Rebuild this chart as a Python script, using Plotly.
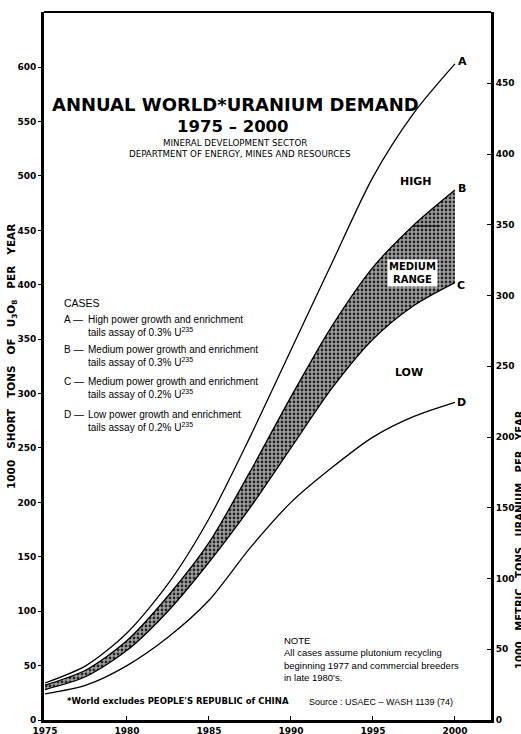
import plotly.graph_objects as go

# ---------------- data ----------------
years = [1975, 1977.5, 1980, 1982.5, 1985, 1987.5, 1990, 1992.5, 1995, 1997.5, 2000]
case_a = [34, 50, 80, 125, 185, 260, 340, 420, 499, 558, 603]
case_b = [32, 46, 73, 114, 163, 228, 297, 362, 416, 455, 487]
case_c = [28, 40, 64, 100, 145, 195, 250, 305, 350, 381, 402]
case_d = [24, 32, 50, 76, 110, 158, 200, 232, 260, 279, 292]
band_mark_years = [1997.4, 1999.1]
band_mark_values = [454, 454]

left_ticks = list(range(0, 601, 50))
right_ticks = list(range(0, 451, 50))
year_ticks = [1975, 1980, 1985, 1990, 1995, 2000]
metric_per_short = 0.769   # 1000 short tons U3O8 -> 1000 metric tons U

# ---------------- geometry ----------------
W, H = 521, 734
ML, MR, MT, MB = 44, 30, 12, 14
PW, PH = W - ML - MR, H - MT - MB
y_max = 650.7
x_range = [1974.94, 2002.2]


def px(x):
    return (x - ML) / PW


def py(y):
    return (H - MB - y) / PH


line_style = dict(color="black", width=1.3, shape="spline", smoothing=0.8)

fig = go.Figure()
fig.add_trace(go.Scatter(x=years, y=case_d, mode="lines", line=line_style,
                         showlegend=False, hoverinfo="skip"))
fig.add_trace(go.Scatter(x=years, y=case_c, mode="lines", line=line_style,
                         showlegend=False, hoverinfo="skip"))
fig.add_trace(go.Scatter(x=years, y=case_b, mode="lines", line=line_style,
                         fill="tonexty", fillcolor="#8f8f8f",
                         fillpattern=dict(shape=".", fgcolor="#262626", bgcolor="#a2a2a2",
                                          size=4, solidity=0.4),
                         showlegend=False, hoverinfo="skip"))
fig.add_trace(go.Scatter(x=years, y=case_a, mode="lines", line=line_style,
                         showlegend=False, hoverinfo="skip"))
fig.add_trace(go.Scatter(x=band_mark_years, y=band_mark_values, mode="lines",
                         line=dict(color="black", width=1), showlegend=False, hoverinfo="skip"))
fig.add_trace(go.Scatter(x=years, y=[v * metric_per_short for v in case_d], yaxis="y2",
                         mode="lines", line=dict(color="rgba(0,0,0,0)", width=0),
                         showlegend=False, hoverinfo="skip"))

tick_font = dict(family="DejaVu Sans", size=9, color="black", weight="bold")

fig.update_layout(
    width=W, height=H,
    margin=dict(l=ML, r=MR, t=MT, b=MB, pad=0),
    paper_bgcolor="white", plot_bgcolor="white",
    template="none",
    xaxis=dict(range=x_range, tickvals=year_ticks, ticktext=[str(t) for t in year_ticks],
               showgrid=False, zeroline=False, showline=True, linecolor="black", linewidth=3,
               mirror=False, ticks="inside", ticklen=4, tickwidth=1, tickcolor="black",
               tickfont=tick_font, automargin=False),
    yaxis=dict(range=[0, y_max], tickvals=left_ticks, showgrid=False, zeroline=False,
               showline=True, linecolor="black", linewidth=3, ticks="outside", ticklen=3,
               tickwidth=1, tickcolor="black", tickfont=tick_font, automargin=False),
    yaxis2=dict(range=[0, y_max * metric_per_short], tickvals=right_ticks, overlaying="y",
                side="right", showgrid=False, zeroline=False, showline=True,
                linecolor="black", linewidth=3, ticks="inside", ticklen=4, tickwidth=1,
                tickcolor="black", tickfont=tick_font, automargin=False),
)

# top frame line
fig.add_shape(type="line", xref="paper", yref="paper", x0=0, x1=1, y0=1, y1=1,
              line=dict(color="black", width=2))

anns = []


def ann(text, x, y, size, family="Liberation Sans", bold=False, xanchor="center",
        yanchor="middle", angle=0, bg=None, align="left"):
    a = dict(text=f"<b>{text}</b>" if bold else text, x=px(x), y=py(y), xref="paper",
             yref="paper", showarrow=False, xanchor=xanchor, yanchor=yanchor,
             textangle=angle, align=align,
             font=dict(family=family, size=size, color="black"))
    if bg:
        a.update(bgcolor=bg, borderpad=1)
    anns.append(a)


# Title block
ann("ANNUAL WORLD*URANIUM DEMAND", 235, 104, 18, family="DejaVu Sans", bold=True)
ann("1975 – 2000", 233, 126, 16.5, family="DejaVu Sans", bold=True)
ann("MINERAL DEVELOPMENT SECTOR", 235, 143, 8.7, family="DejaVu Sans")
ann("DEPARTMENT OF ENERGY, MINES AND RESOURCES", 240, 154, 8.7, family="DejaVu Sans")

# Cases legend
ann("CASES", 62, 303, 10.5, xanchor="left")
cases = [
    ("A —", "High power growth and enrichment", "0.3%", 318),
    ("B —", "Medium power growth and enrichment", "0.3%", 348),
    ("C —", "Medium power growth and enrichment", "0.2%", 380),
    ("D —", "Low power growth and enrichment", "0.2%", 413),
]
for letter, line1, assay, yy in cases:
    ann(letter, 62, yy - 6, 10, xanchor="left", yanchor="top")
    ann(f"{line1}<br>tails assay of {assay} U<sup>235</sup>", 86, yy - 6, 10,
        xanchor="left", yanchor="top")

# Curve labels
ann("A", 462, 62, 11, family="DejaVu Sans", bold=True)
ann("B", 462, 188, 11, family="DejaVu Sans", bold=True)
ann("C", 461, 285, 11, family="DejaVu Sans", bold=True)
ann("D", 461, 403, 11, family="DejaVu Sans", bold=True)
ann("HIGH", 416, 181, 11, family="DejaVu Sans", bold=True)
ann("LOW", 409, 372, 11, family="DejaVu Sans", bold=True)
ann("MEDIUM<br>RANGE", 412, 273, 10, family="DejaVu Sans", bold=True, bg="white",
    align="center")

# Note and footnotes
ann("NOTE<br>All cases assume plutonium recycling<br>beginning 1977 and commercial breeders"
    "<br>in late 1980's.", 282, 633, 9.5, xanchor="left", yanchor="top")
ann("*World excludes PEOPLE'S REPUBLIC of CHINA", 65, 701, 8.5, family="DejaVu Sans",
    bold=True, xanchor="left")
ann("Source : USAEC – WASH 1139 (74)", 307, 702, 9, xanchor="left")

# Axis titles
ann("1000   SHORT   TONS   OF   U<sub>3</sub>O<sub>8</sub>   PER   YEAR", 12, 357, 10.5,
    family="DejaVu Sans", bold=True, angle=-90)
ann("1000   METRIC   TONS   URANIUM   PER   YEAR", 519, 540, 10,
    family="DejaVu Sans", bold=True, angle=-90)

fig.update_layout(annotations=anns)
fig.write_html(
    "out.html",
    config={"displayModeBar": False},
    post_script="document.body.style.margin='0';document.body.style.overflow='hidden';",
)
